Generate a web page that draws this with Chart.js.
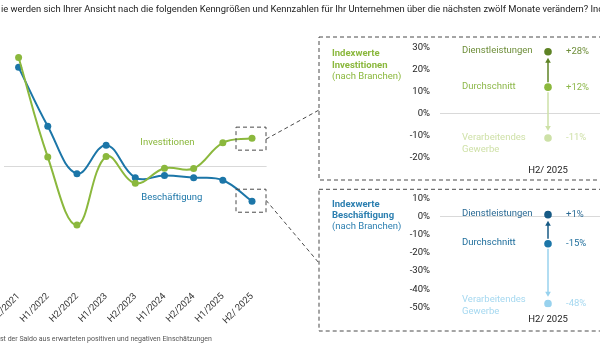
<!DOCTYPE html>
<html><head><meta charset="utf-8">
<script src="https://cdn.jsdelivr.net/npm/chart.js@4/dist/chart.umd.min.js"></script>
<style>
html,body{margin:0;padding:0;background:#fff;overflow:hidden;width:600px;height:357px;position:relative}
canvas{position:absolute;top:0}
#main{left:0}
#p1,#p2{left:300px}
</style></head>
<body>
<canvas id="main" width="600" height="357"></canvas>
<canvas id="p1" width="360" height="357"></canvas>
<canvas id="p2" width="360" height="357"></canvas>
<script>
const categories = ['H2/2021','H1/2022','H2/2022','H1/2023','H2/2023','H1/2024','H2/2024','H1/2025','H2/ 2025'];
const investitionen = [46.5, 3.9, -25.2, 4.1, -7.3, -0.9, -1.0, 10.0, 12];
const beschaeftigung = [42.3, 17.1, -3.2, 9.0, -4.9, -4.0, -4.9, -6.0, -15];
const branchen = ['Dienstleistungen', 'Durchschnitt', 'Verarbeitendes Gewerbe'];
const invBranchen = [28, 12, -11];
const beschBranchen = [1, -15, -48];
const panelCategory = ['H2/ 2025'];
const titleText = 'ie werden sich Ihrer Ansicht nach die folgenden Kenngrößen und Kennzahlen für Ihr Unternehmen über die nächsten zwölf Monate verändern? Indexwerte';
const footText = 'st der Saldo aus erwarteten positiven und negativen Einschätzungen';

const FONT = 'Roboto, "Liberation Sans", sans-serif';
const GREEN = '#8BB83D', GREEN_D = '#5E8325', GREEN_L = '#CDE1A7';
const BLUE = '#1C76A8', BLUE_D = '#175A85', BLUE_L = '#98D2EE';
Chart.defaults.font.family = FONT;

function dashedRect(ctx, x, y, w, h) {
  ctx.save(); ctx.strokeStyle = '#4a4a4a'; ctx.lineWidth = 1; ctx.setLineDash([4, 3]);
  ctx.strokeRect(x, y, w, h); ctx.restore();
}
function dashedLine(ctx, x1, y1, x2, y2) {
  ctx.save(); ctx.strokeStyle = '#4a4a4a'; ctx.lineWidth = 1; ctx.setLineDash([4, 3]);
  ctx.beginPath(); ctx.moveTo(x1, y1); ctx.lineTo(x2, y2); ctx.stroke(); ctx.restore();
}

const mainDeco = {
  id: 'mainDeco',
  afterDraw(chart) {
    const ctx = chart.ctx, xs = chart.scales.x, ys = chart.scales.y;
    ctx.save();
    ctx.fillStyle = '#222'; ctx.font = '9.4px ' + FONT; ctx.textBaseline = 'middle'; ctx.textAlign = 'left';
    ctx.fillText(titleText, 1, 10);
    ctx.fillStyle = '#555'; ctx.font = '7px ' + FONT;
    ctx.fillText(footText, 0, 339);
    ctx.textAlign = 'center'; ctx.font = '9.5px ' + FONT;
    ctx.fillStyle = GREEN; ctx.fillText('Investitionen', xs.getPixelForValue(5.1), ys.getPixelForValue(9.9));
    ctx.fillStyle = BLUE; ctx.fillText('Beschäftigung', xs.getPixelForValue(5.25), ys.getPixelForValue(-13.3));
    ctx.restore();
    const last = categories.length - 1;
    const px = xs.getPixelForValue(last);
    const yi = ys.getPixelForValue(investitionen[last]);
    const yb = ys.getPixelForValue(beschaeftigung[last]);
    dashedRect(ctx, px - 16, yi - 11, 30, 23);
    dashedRect(ctx, px - 16, yb - 12, 30, 23);
    dashedLine(ctx, px + 14, yi + 1, 319, 110);
    dashedLine(ctx, px + 14, yb - 1, 319, 263);
  }
};

new Chart(document.getElementById('main'), {
  type: 'line',
  data: {
    labels: categories,
    datasets: [
      { data: investitionen, borderColor: GREEN, backgroundColor: GREEN, pointBackgroundColor: GREEN, pointBorderWidth: 0, pointRadius: 3.5, borderWidth: 2, tension: 0.4 },
      { data: beschaeftigung, borderColor: BLUE, backgroundColor: BLUE, pointBackgroundColor: BLUE, pointBorderWidth: 0, pointRadius: 3.5, borderWidth: 2, tension: 0.4 }
    ]
  },
  options: {
    responsive: false, animation: false, devicePixelRatio: 1,
    layout: { padding: { left: 3.4, right: 333.4, top: 26, bottom: 29 } },
    plugins: { legend: { display: false }, tooltip: { enabled: false } },
    scales: {
      x: {
        offset: true, grid: { display: false, drawTicks: false }, border: { display: false },
        ticks: { maxRotation: 45, minRotation: 45, autoSkip: false, padding: 8, color: '#333', font: { size: 9.3 } },
        afterFit: s => { s.height = 45; s.paddingLeft = 0; s.paddingRight = 0; }
      },
      y: {
        min: -50, max: 60,
        ticks: { display: false, stepSize: 10 },
        border: { display: false },
        grid: { drawTicks: false, color: c => c.tick && c.tick.value === 0 ? '#d9d9d9' : 'rgba(0,0,0,0)' },
        afterFit: s => { s.width = 0; s.paddingTop = 0; s.paddingBottom = 0; }
      }
    }
  },
  plugins: [mainDeco]
});

function makePanel(id, values, min, max, top, bottom, boxTop, boxBottom, title2, titleY, colMain, colors, labelColors, lineOffset) {
  const deco = {
    id: 'deco' + id,
    afterDraw(chart) {
      const ctx = chart.ctx, xs = chart.scales.x, ys = chart.scales.y;
      dashedRect(ctx, 19, boxTop, 400, boxBottom - boxTop);
      ctx.save();
      ctx.textAlign = 'left'; ctx.textBaseline = 'middle';
      ctx.font = 'bold 9.5px ' + FONT; ctx.fillStyle = colMain;
      ctx.fillText('Indexwerte', 32, titleY);
      ctx.fillText(title2, 32, titleY + 11.5);
      ctx.font = '9.5px ' + FONT;
      ctx.fillText('(nach Branchen)', 32, titleY + 22.5);
      const px = xs.getPixelForValue(0);
      const py = values.map(v => ys.getPixelForValue(v));
      const arrow = (y1, y2, col) => {
        const dir = y2 > y1 ? 1 : -1;
        ctx.strokeStyle = col; ctx.fillStyle = col; ctx.lineWidth = 1.5;
        ctx.beginPath(); ctx.moveTo(px, y1); ctx.lineTo(px, y2 - dir * 3); ctx.stroke();
        ctx.beginPath(); ctx.moveTo(px, y2); ctx.lineTo(px - 2.8, y2 - dir * 5); ctx.lineTo(px + 2.8, y2 - dir * 5); ctx.closePath(); ctx.fill();
      };
      arrow(py[1] - 5, py[0] + 6, colors[0]);
      arrow(py[1] + 5, py[2] - 7, colors[2]);
      values.forEach((v, i) => {
        ctx.fillStyle = labelColors[i];
        const name = branchen[i];
        if (i === 2) {
          const parts = name.split(' ');
          ctx.fillText(parts[0], px - 86, py[i] + lineOffset);
          ctx.fillText(parts[1], px - 86, py[i] + lineOffset + 11.5);
        } else {
          ctx.fillText(name, px - 86, py[i] - 1);
        }
        ctx.fillText((v > 0 ? '+' : '') + v + '%', px + 18, py[i]);
      });
      ctx.restore();
    }
  };
  new Chart(document.getElementById(id), {
    type: 'line',
    data: {
      labels: panelCategory,
      datasets: values.map((v, i) => ({ data: [v], pointRadius: 3.8, pointBorderWidth: 0, pointBackgroundColor: colors[i], borderColor: colors[i], showLine: false }))
    },
    options: {
      responsive: false, animation: false, devicePixelRatio: 1,
      layout: { padding: { left: 0, right: 0, top: top, bottom: 357 - bottom - 20 } },
      plugins: { legend: { display: false }, tooltip: { enabled: false } },
      scales: {
        x: {
          offset: true, grid: { display: false, drawTicks: false }, border: { display: false },
          ticks: { padding: 7, color: '#222', font: { size: 9.5 }, maxRotation: 0 },
          afterFit: s => { s.height = 20; }
        },
        y: {
          min: min, max: max,
          ticks: { stepSize: 10, padding: 10, color: '#222', font: { size: 9.5 }, callback: v => v + '%' },
          border: { display: false },
          grid: { drawTicks: false, color: c => c.tick && c.tick.value === 0 ? '#d9d9d9' : 'rgba(0,0,0,0)' },
          afterFit: s => { s.width = 140; }
        }
      }
    },
    plugins: [deco]
  });
}

makePanel('p1', invBranchen, -20, 30, 47.3, 158, 37, 180, 'Investitionen', 54, GREEN,
  [GREEN_D, GREEN, GREEN_L], ['#6E8E3A', '#8DB84A', '#CFE1A8'], 0);
makePanel('p2', beschBranchen, -50, 10, 198.3, 307.3, 189.3, 331, 'Beschäftigung', 204.3, '#2C7FB0',
  [BLUE_D, BLUE, BLUE_L], ['#2A6A94', '#1F6E9C', '#A5D8F0'], -4);
</script>
</body></html>
